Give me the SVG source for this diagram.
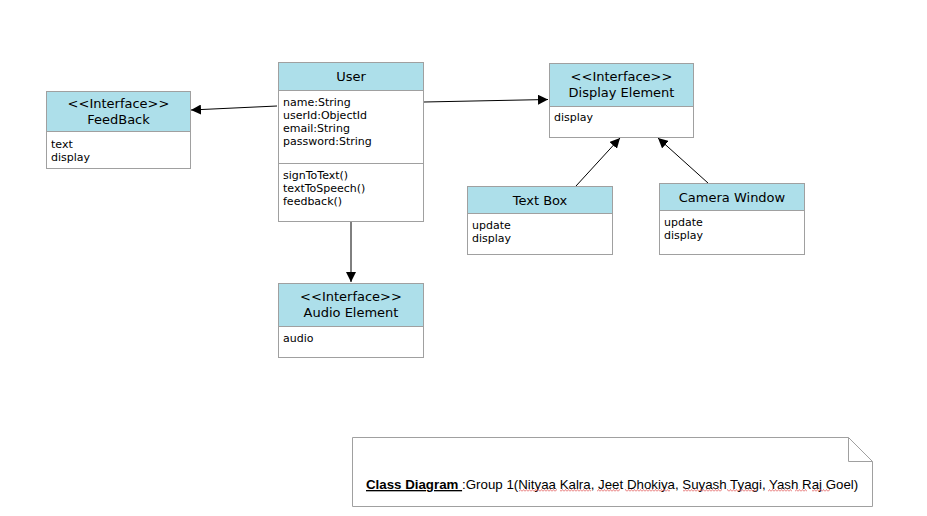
<svg xmlns="http://www.w3.org/2000/svg" width="927" height="516" viewBox="0 0 927 516">
<style>
.box{fill:#ffffff;stroke:#a0a0a0;stroke-width:1}
.hdr{fill:#addfea;stroke:#a0a0a0;stroke-width:1}
.ttl{font-family:"DejaVu Sans",Verdana,sans-serif;font-size:13px;fill:#000;text-anchor:middle}
.bd{font-family:"DejaVu Sans",Verdana,sans-serif;font-size:11px;fill:#000}
.ln{stroke:#000;stroke-width:1;fill:none;marker-end:url(#ah)}
.note{font-family:"Liberation Sans",Arial,sans-serif;font-size:13.3px;fill:#000}
.sq{fill:url(#squig)}
</style>
<defs>
<marker id="ah" viewBox="0 0 10 10" refX="10" refY="5" markerWidth="10" markerHeight="10" markerUnits="userSpaceOnUse" orient="auto">
<path d="M0,0 L10,5 L0,10 Z" fill="#000"/>
</marker>
<pattern id="squig" x="0" y="489" width="3" height="3" patternUnits="userSpaceOnUse">
<path d="M0,2.5 L1.5,0.5 L3,2.5" fill="none" stroke="#e05050" stroke-width="0.7"/>
</pattern>
</defs>
<rect width="927" height="516" fill="#ffffff"/>
<g id="connectors">
<line class="ln" x1="277" y1="106" x2="191" y2="110"/>
<line class="ln" x1="424" y1="102" x2="548" y2="99.5"/>
<line class="ln" x1="351" y1="222" x2="351" y2="282"/>
<line class="ln" x1="576" y1="186" x2="620" y2="138"/>
<line class="ln" x1="708" y1="183" x2="658" y2="138"/>
</g>
<g id="user">
<rect class="box" x="278.5" y="62.5" width="145" height="159"/>
<rect class="hdr" x="278.5" y="62.5" width="145" height="28"/>
<line x1="278.5" y1="163.5" x2="423.5" y2="163.5" stroke="#a0a0a0"/>
<text class="ttl" x="351" y="81">User</text>
<text class="bd" x="283" y="106">name:String</text>
<text class="bd" x="283" y="119">userId:ObjectId</text>
<text class="bd" x="283" y="132">email:String</text>
<text class="bd" x="283" y="145">password:String</text>
<text class="bd" x="283" y="179">signToText()</text>
<text class="bd" x="283" y="192">textToSpeech()</text>
<text class="bd" x="283" y="205">feedback()</text>
</g>
<g id="feedback">
<rect class="box" x="46.5" y="91.5" width="144" height="77"/>
<rect class="hdr" x="46.5" y="91.5" width="144" height="40"/>
<text class="ttl" x="118.5" y="108">&lt;&lt;Interface&gt;&gt;</text>
<text class="ttl" x="118.5" y="124">FeedBack</text>
<text class="bd" x="51" y="148">text</text>
<text class="bd" x="51" y="161">display</text>
</g>
<g id="display-element">
<rect class="box" x="549.5" y="63.5" width="144" height="74"/>
<rect class="hdr" x="549.5" y="63.5" width="144" height="43"/>
<text class="ttl" x="621.5" y="81">&lt;&lt;Interface&gt;&gt;</text>
<text class="ttl" x="621.5" y="97">Display Element</text>
<text class="bd" x="554" y="121">display</text>
</g>
<g id="text-box">
<rect class="box" x="467.5" y="186.5" width="145" height="68"/>
<rect class="hdr" x="467.5" y="186.5" width="145" height="27"/>
<text class="ttl" x="540" y="205">Text Box</text>
<text class="bd" x="472" y="229">update</text>
<text class="bd" x="472" y="242">display</text>
</g>
<g id="camera-window">
<rect class="box" x="659.5" y="183.5" width="145" height="71"/>
<rect class="hdr" x="659.5" y="183.5" width="145" height="27"/>
<text class="ttl" x="732" y="202">Camera Window</text>
<text class="bd" x="664" y="226">update</text>
<text class="bd" x="664" y="239">display</text>
</g>
<g id="audio-element">
<rect class="box" x="278.5" y="283.5" width="145" height="74"/>
<rect class="hdr" x="278.5" y="283.5" width="145" height="43"/>
<text class="ttl" x="351" y="301">&lt;&lt;Interface&gt;&gt;</text>
<text class="ttl" x="351" y="317">Audio Element</text>
<text class="bd" x="283" y="342">audio</text>
</g>
<g id="note">
<path d="M352.5,437.5 H848.5 L872.5,461.5 V506.5 H352.5 Z" fill="#fff" stroke="#a0a0a0"/>
<path d="M848.5,437.5 V461.5 H872.5" fill="none" stroke="#a0a0a0"/>
<text class="note" x="366" y="489"><tspan font-weight="bold" text-decoration="underline">Class Diagram </tspan>:Group 1(Nityaa Kalra, Jeet Dhokiya, Suyash Tyagi, Yash Raj Goel)</text>
<rect class="sq" x="519" y="489" width="38" height="3"/>
<rect class="sq" x="560" y="489" width="31" height="3"/>
<rect class="sq" x="597" y="489" width="23" height="3"/>
<rect class="sq" x="625" y="489" width="45" height="3"/>
<rect class="sq" x="683" y="489" width="39" height="3"/>
<rect class="sq" x="727" y="489" width="29" height="3"/>
<rect class="sq" x="768" y="489" width="24" height="3"/>
<rect class="sq" x="795" y="489" width="12" height="3"/>
<rect class="sq" x="812" y="489" width="18" height="3"/>
</g>
</svg>
